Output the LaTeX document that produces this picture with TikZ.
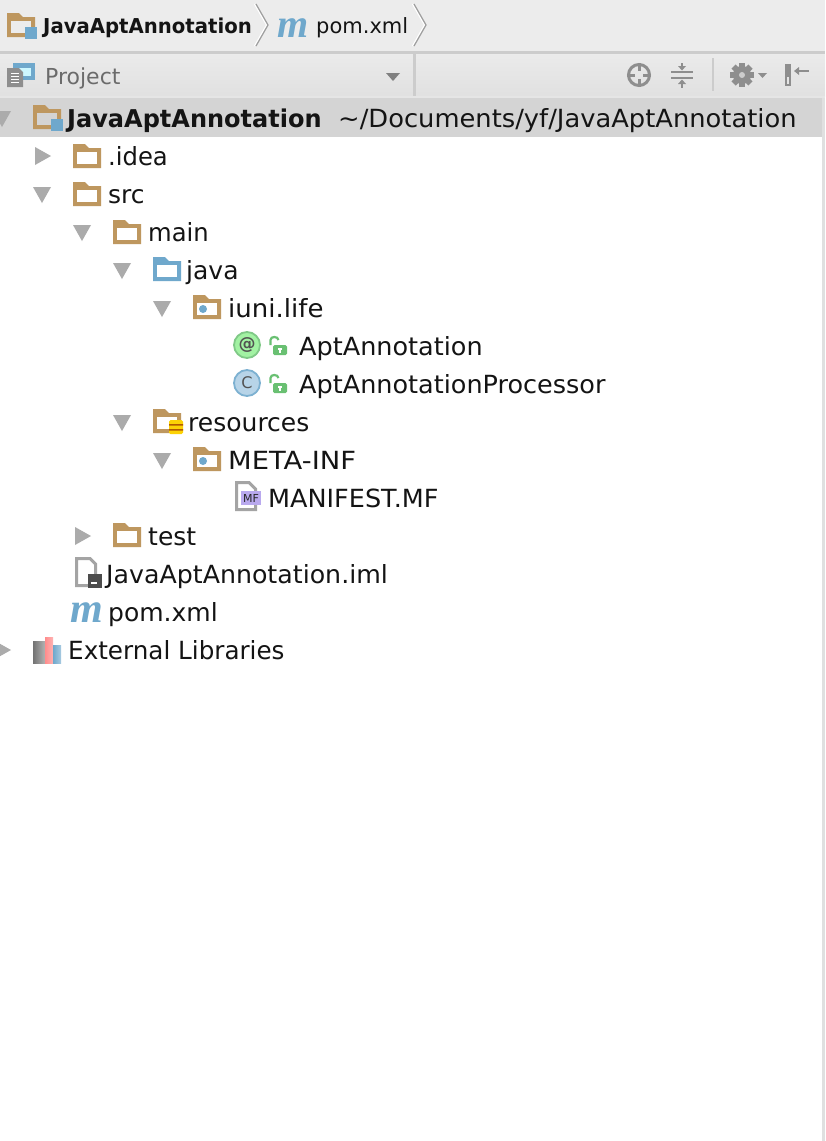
\documentclass[tikz,border=0pt]{standalone}
\usepackage{fontspec}
\setmainfont{DejaVu Sans}
\newfontfamily\micon{Liberation Serif}
\definecolor{fold}{HTML}{BE975F}
\definecolor{blu}{HTML}{6FA8CC}
\definecolor{tri}{HTML}{ABABAB}
\definecolor{ink}{HTML}{141414}
\definecolor{tool}{HTML}{8E8E8E}
\definecolor{lockg}{HTML}{69C072}
\definecolor{mfbox}{HTML}{B9A9EE}
\newcommand{\sx}[2]{\scalebox{#1}[1]{#2}}
\tikzset{
  lbl/.style={anchor=base west,inner sep=0pt,text=ink,font=\fontsize{25}{25}\selectfont},
  toplbl/.style={anchor=base west,inner sep=0pt,text=ink,font=\fontsize{21}{21}\selectfont},
  mm/.style={anchor=center,inner sep=0pt,text=blu,font=\micon\bfseries\itshape\fontsize{42}{42}\selectfont},
  pics/folder/.style={code={
    \fill[#1] (0,0)--(12,0)--(16,4)--(28,4)--(28,24)--(0,24)--cycle;
    \fill[white] (4,8)--(24,8)--(24,20)--(4,20)--cycle;
  }},
  pics/modfolder/.style={code={
    \fill[fold] (0,0)--(12,0)--(16,4)--(28,4)--(28,24)--(0,24)--cycle;
    \fill[#1] (4,8)--(24,8)--(24,20)--(4,20)--cycle;
    \fill[blu] (18,14) rectangle (30,26);
  }},
  pics/pkg/.style={code={
    \pic {folder=fold};
    \fill[blu] (10,14) circle (4);
  }},
  pics/tdown/.style={code={\fill[tri] (-9,-8)--(9,-8)--(0,8)--cycle;}},
  pics/tright/.style={code={\fill[tri] (-8,-9)--(8,0)--(-8,9)--cycle;}},
  pics/lock/.style={code={
    \draw[lockg,line width=2.2] (1.5,8)--(1.5,3) .. controls (1.5,-1) and (9,-1) .. (9.5,3);
    \fill[lockg,rounded corners=1.5] (4,8) rectangle (18,18);
    \fill[white] (9,11) rectangle (13,13);
    \fill[white] (10,13) rectangle (12,16);
  }},
}
\begin{document}
\begin{tikzpicture}[x=1pt,y=-1pt]
\useasboundingbox (0,0) rectangle (825,1141);
% backgrounds
\fill[white] (0,0) rectangle (825,1141);
\fill[black!7.5] (0,0) rectangle (825,52);
\fill[black!20] (0,51) rectangle (825,54);
\shade[top color=black!8,bottom color=black!12] (0,54) rectangle (825,96);
\fill[black!20] (413,54) rectangle (416,96);
\fill[black!17] (0,96) rectangle (825,137);
\fill[black!12] (822,96) rectangle (825,1141);
\fill[black!10] (0,96) rectangle (825,98);
% breadcrumb
\pic at (7,13) {modfolder=black!7.5};
\node[toplbl,font=\bfseries\fontsize{20.5}{21}\selectfont] (crumbA) at (43,33) {\sx{.96}{JavaAptAnnotation}};
\draw[white,line width=1.2] (254.5,4)--(266.5,25)--(254.5,46);
\draw[black!38,line width=1.2] (256,4)--(268,25)--(256,46);
\node[mm,font=\micon\bfseries\itshape\fontsize{40}{40}\selectfont] (crumbM) at (293,28) {m};
\node[toplbl] (crumbB) at (316,33) {pom.xml};
\draw[white,line width=1.2] (412.5,4)--(424.5,25)--(412.5,46);
\draw[black!38,line width=1.2] (414,4)--(426,25)--(414,46);
% toolbar
\fill[blu] (13,63) rectangle (35,80);
\fill[blue!15!cyan!20] (18,68) rectangle (31,76);
\fill[tool] (7,68)--(19,68)--(23,72)--(23,87)--(7,87)--cycle;
\foreach \yy in {73,76,79,82}{\draw[white,line width=.8] (11,\yy)--(19,\yy);}
\node[lbl,text=black!58,font=\fontsize{22}{22}\selectfont] (proj) at (45,84) {Project};
\fill[black!50] (386,73)--(400,73)--(393,81)--cycle;
% locate
\draw[tool,line width=3] (639,75) circle (10.5);
\foreach \a/\b/\c/\d in {627/75/635/75,643/75/651/75,639/63/639/71,639/79/639/87}{\draw[tool,line width=3] (\a,\b)--(\c,\d);}
% collapse
\draw[tool,line width=1.4] (671,72)--(693,72) (671,78)--(693,78);
\draw[tool,line width=1.4] (682,63)--(682,69) (682,81)--(682,88);
\fill[tool] (678,66)--(686,66)--(682,70.5)--cycle (678,84)--(686,84)--(682,79.5)--cycle;
\fill[black!20] (712,58) rectangle (713.5,91);
% gear
\foreach \r in {0,45,90,135}{\fill[tool,rotate around={\r:(742,75)}] (739,63) rectangle (745,87);}
\fill[tool] (742,75) circle (9);
\fill[black!20] (742,75) circle (3);
\fill[tool] (758,73)--(767,73)--(762.5,78)--cycle;
% hide
\fill[tool] (785,64) rectangle (791,86);
\fill[black!10] (787,77) rectangle (789,84);
\draw[tool,line width=1.4] (797,71)--(809,71);
\fill[tool] (794,71)--(799,67)--(799,75)--cycle;
% root row
\pic at (2,119) {tdown};
\pic at (33,105) {modfolder=black!17};
\node[lbl,font=\bfseries\fontsize{24.5}{25}\selectfont] (root) at (67,127) {\sx{.98}{JavaAptAnnotation}};
\node[lbl] (rootpath) at (338,127) {\sx{1.03}{\char`\~/Documents/yf/JavaAptAnnotation}};
% tree
\pic at (43,156) {tright};
\pic at (73,144) {folder=fold};
\node[lbl] (idea) at (108,165) {\sx{.97}{.idea}};
\pic at (42,195) {tdown};
\pic at (73,182) {folder=fold};
\node[lbl] (src) at (108,203) {src};
\pic at (82,233) {tdown};
\pic at (113,220) {folder=fold};
\node[lbl] (main) at (148,241) {\sx{.97}{main}};
\pic at (122,271) {tdown};
\pic at (153,257) {folder=blu};
\node[lbl] (java) at (186,279) {java};
\pic at (162,309) {tdown};
\pic at (193,295) {pkg};
\node[lbl] (iuni) at (228,317) {\sx{1.04}{iuni.life}};
% annotation
\draw[fill=green!55!lockg!45!white,draw=lockg!85!white,line width=1.8] (247,345) circle (13);
\node[inner sep=0pt,text=black!68,font=\bfseries\fontsize{17}{17}\selectfont] (at) at (247,345) {@};
\pic at (269,337) {lock};
\node[lbl] (apt) at (299,355) {\sx{1.02}{AptAnnotation}};
\draw[fill=cyan!25!blu!45!white,draw=blu!90!white,line width=1.8] (247,383) circle (13);
\node[inner sep=0pt,text=black!68,font=\fontsize{16}{16}\selectfont] (cc) at (247,383) {C};
\pic at (269,375) {lock};
\node[lbl] (proc) at (299,393) {\sx{1.02}{AptAnnotationProcessor}};
% resources
\pic at (122,423) {tdown};
\pic at (153,409) {folder=fold};
\fill[yellow!70!orange,rounded corners=1.5] (169,420) rectangle (183,434);
\fill[orange!70!black] (169,424) rectangle (183,425.5) (169,429) rectangle (183,430.5);
\node[lbl] (res) at (188,431) {resources};
\pic at (162,461) {tdown};
\pic at (193,447) {pkg};
\node[lbl] (meta) at (228,469) {\sx{1.095}{META-INF}};
% manifest
\draw[tool!80!white,line width=3,line join=miter] (236.5,482.5)--(249,482.5)--(255.5,489)--(255.5,509.5)--(236.5,509.5)--cycle;
\fill[mfbox] (241,491) rectangle (261,505);
\node[inner sep=0pt,text=black!85,font=\fontsize{11}{11}\selectfont] (mf) at (251,498) {MF};
\node[lbl] (manifest) at (268,507) {\sx{1.02}{MANIFEST.MF}};
% test
\pic at (83,536) {tright};
\pic at (113,523) {folder=fold};
\node[lbl] (test) at (148,545) {test};
% iml
\draw[tool!80!white,line width=3,line join=miter] (76.5,558.5)--(90,558.5)--(95.5,564)--(95.5,585.5)--(76.5,585.5)--cycle;
\fill[black!70] (88,574) rectangle (102,588);
\fill[white] (91,582) rectangle (97,584);
\node[lbl] (iml) at (106,583) {\sx{1.01}{JavaAptAnnotation.iml}};
% pom
\node[mm] (pomm) at (87,613) {m};
\node[lbl] (pom) at (108,621) {pom.xml};
% external
\pic at (3,650) {tright};
\shade[left color=black!55,right color=black!30] (33,641) rectangle (45,663);
\shade[left color=red!45!white,right color=red!30!white] (45,637) rectangle (53,663);
\shade[left color=blu,right color=blu!60!white] (53,645) rectangle (61,663);
\node[lbl] (ext) at (68,659) {\sx{.985}{External Libraries}};
\end{tikzpicture}
\end{document}
